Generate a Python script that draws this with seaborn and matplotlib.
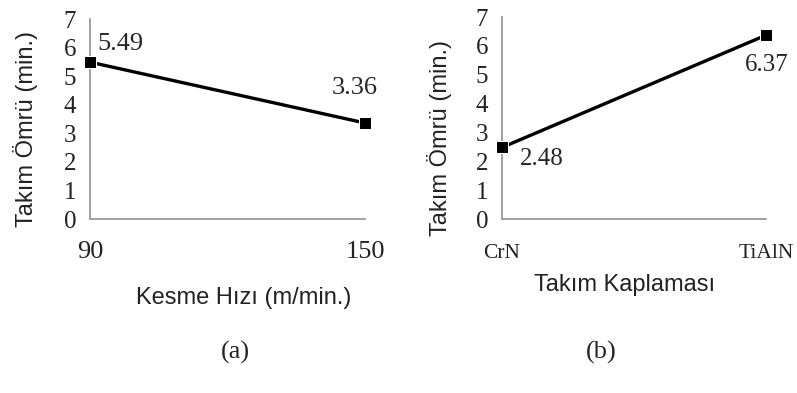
import numpy as np
import pandas as pd
import matplotlib
matplotlib.use('Agg')
import matplotlib.pyplot as plt
import seaborn as sns

# tool life vs cutting speed (a) and vs tool coating (b)
speeds = [90, 150]
speed_life = [5.49, 3.36]
coatings = ['CrN', 'TiAlN']
coating_life = [2.48, 6.37]

sns.set_style('white')
plt.rcParams['font.family'] = ['Liberation Serif', 'DejaVu Serif']

serif = 'Liberation Serif'
sans = 'Liberation Sans'
axis_grey = '#9a9a9a'

fig = plt.figure(figsize=(7.97, 3.93), dpi=100)
ax1 = fig.add_axes([90 / 797, 1 - 219 / 393, 275 / 797, 200 / 393])
ax2 = fig.add_axes([502 / 797, 1 - 219 / 393, 264 / 797, 202 / 393])

df_a = pd.DataFrame({'speed': speeds, 'life': speed_life})
df_b = pd.DataFrame({'coating': coatings, 'life': coating_life})

sns.lineplot(data=df_a, x='speed', y='life', ax=ax1, color='black', lw=2.4,
             marker='s', markersize=8, clip_on=False, zorder=5)
sns.lineplot(data=df_b, x='coating', y='life', ax=ax2, color='black', lw=2.4,
             marker='s', markersize=8, clip_on=False, zorder=5)

ax1.set_xlim(speeds[0], speeds[-1])
ax1.set_xticks(speeds)
ax2.set_xlim(0, len(coatings) - 1)
ax2.set_xticks(range(len(coatings)))
ax2.set_xticklabels(coatings)

for ax in (ax1, ax2):
    ax.set_ylim(0, 7)
    ax.set_yticks(range(8))
    for s in ['top', 'right']:
        ax.spines[s].set_visible(False)
    for s in ['left', 'bottom']:
        ax.spines[s].set_color(axis_grey)
        ax.spines[s].set_linewidth(1.3)
    ax.tick_params(axis='both', direction='inout', length=8, width=1.2, color=axis_grey,
                   labelcolor='#222222')
    ax.tick_params(axis='y', labelsize=18, pad=6)
    for lab in ax.get_yticklabels() + ax.get_xticklabels():
        lab.set_fontfamily(serif)

ax1.tick_params(axis='x', labelsize=19, pad=12)
ax2.tick_params(axis='x', labelsize=15.5, pad=14)

ax1.set_ylabel('Takım Ömrü (min.)', fontsize=17, family=sans, color='#222222')
ax1.yaxis.set_label_coords(-0.19, 0.45)
ax1.set_xlabel('Kesme Hızı (m/min.)', fontsize=17, family=sans, color='#222222')
ax1.xaxis.set_label_coords(0.56, -0.34)

ax2.set_ylabel('Takım Ömrü (min.)', fontsize=17, family=sans, color='#222222')
ax2.yaxis.set_label_coords(-0.19, 0.40)
ax2.set_xlabel('Takım Kaplaması', fontsize=17, family=sans, color='#222222')
ax2.xaxis.set_label_coords(0.466, -0.27)

# value labels next to the points
ax1.annotate(f'{speed_life[0]:.2f}', (speeds[0], speed_life[0]), xytext=(7, 18),
             textcoords='offset pixels', ha='left', va='center', fontsize=19, family=serif)
ax1.annotate(f'{speed_life[1]:.2f}', (speeds[1], speed_life[1]), xytext=(-10, 35),
             textcoords='offset pixels', ha='center', va='center', fontsize=19, family=serif)
ax2.annotate(f'{coating_life[0]:.2f}', (0, coating_life[0]), xytext=(40, -12),
             textcoords='offset pixels', ha='center', va='center', fontsize=18, family=serif)
ax2.annotate(f'{coating_life[1]:.2f}', (1, coating_life[1]), xytext=(1, -30),
             textcoords='offset pixels', ha='center', va='center', fontsize=18, family=serif)

fig.text(235 / 797, 1 - 352 / 393, '(a)', ha='center', va='center', fontsize=19, family=serif)
fig.text(601 / 797, 1 - 352 / 393, '(b)', ha='center', va='center', fontsize=19, family=serif)

fig.savefig('out.png', dpi=100)
